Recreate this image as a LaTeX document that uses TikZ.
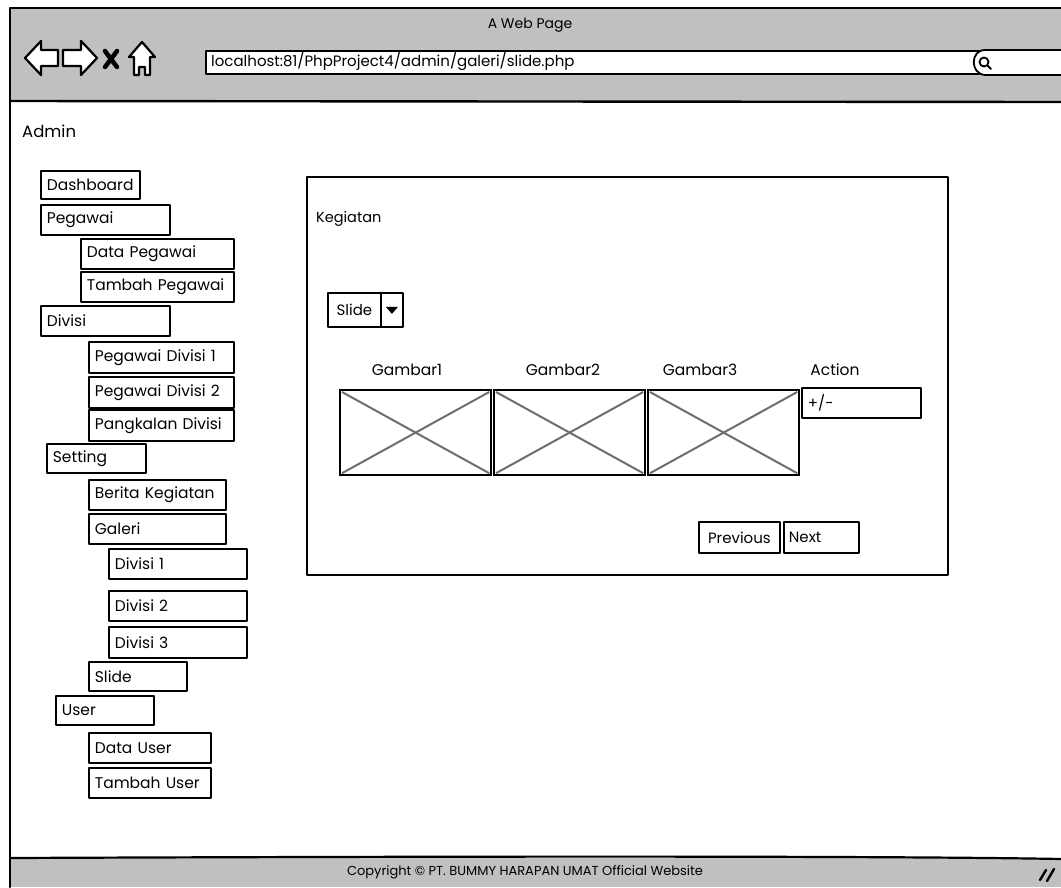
\documentclass[tikz,border=0pt]{standalone}
\usepackage{fontspec}
\setmainfont{Poppins}
\definecolor{chrome}{HTML}{C0C0C0}
\definecolor{xline}{HTML}{6E6E6E}
\tikzset{
  ink/.style={line width=1.8pt, line join=round, line cap=round},
  menubox/.style={ink, draw, fill=white, anchor=north west, inner xsep=6pt, inner ysep=0pt,
    text width=#1, align=left, font=\fontsize{15.5}{17}\selectfont},
  btn/.style={ink, draw, fill=white, anchor=north west, inner sep=0pt, font=\fontsize{15}{17}\selectfont},
  lbl/.style={inner sep=0pt, font=\fontsize{15.5}{18}\selectfont},
  icon/.style={ink, draw, fill=white, line width=2.2pt},
  imgbox/.style={draw, line width=2.2pt, anchor=north west, inner sep=0pt},
  cross/.style={draw=xline, line width=2pt}
}
\begin{document}
\begin{tikzpicture}[x=1pt, y=-1pt]
\useasboundingbox (0,0) rectangle (1061,887);
\fill[white] (0,0) rectangle (1061,887);

% browser window: title bar, content area, status bar
\fill[chrome] (10,8) rectangle (1061,101);
\fill[chrome] (10,858) rectangle (1061,887);
\draw[ink, line width=2pt] (1061,8) -- (10,8) -- (10,887);
\draw[ink, line width=2.4pt] (10,101) -- (1061,102);
\draw[ink, line width=2.2pt] (10,858) .. controls (500,856) and (900,856) .. (1061,859);

\node[lbl, font=\fontsize{14}{16}\selectfont] (title) at (530,25) {A Web Page};

% navigation icons
\draw[icon] (25,58) -- (41,41) -- (41,50) -- (58,50) -- (58,66) -- (41,66) -- (41,75) -- cycle;
\draw[icon] (97,58) -- (81,41) -- (81,50) -- (63,50) -- (63,66) -- (81,66) -- (81,75) -- cycle;
\draw[ink, line width=4.5pt] (105,51) -- (117,67) (117,51) -- (105,67);
\draw[icon] (142,42) -- (155,57) -- (150,57) -- (150,75) -- (145,75) -- (145,67) -- (139,67) -- (139,75) -- (134,75) -- (134,57) -- (129,57) -- cycle;

% address bar
\node[ink, draw, fill=white, anchor=north west, minimum width=773pt, minimum height=23pt, inner sep=0pt] (url) at (205,50) {};
\node[lbl, anchor=west, font=\fontsize{15}{17}\selectfont] (urltext) at (211,61) {localhost:81/PhpProject4/admin/galeri/slide.php};

% search field
\draw[ink, fill=white] (1070,50) -- (985,50) .. controls (970,50) and (970,74) .. (985,75) -- (1070,75);
\node[circle, ink, draw, minimum size=9pt, inner sep=0pt] (lens) at (984,62) {};
\draw[ink, line width=2pt] (lens.south east) -- ++(3,3);

% user label
\node[lbl, anchor=west, font=\fontsize{16.5}{19}\selectfont] (admin) at (22,131) {Admin};

% side menu
\node[menubox=87pt, minimum height=28pt] (m1) at (40,170) {Dashboard};
\node[menubox=117pt, minimum height=30pt] (m2) at (40,204) {Pegawai};
\node[menubox=141pt, minimum height=30pt] (m3) at (80,238) {Data Pegawai};
\node[menubox=141pt, minimum height=30pt] (m4) at (80,271) {Tambah Pegawai};
\node[menubox=117pt, minimum height=30pt] (m5) at (40,305) {Divisi};
\node[menubox=133pt, minimum height=31pt] (m6) at (88,341) {Pegawai Divisi 1};
\node[menubox=133pt, minimum height=31pt] (m7) at (88,376) {Pegawai Divisi 2};
\node[menubox=133pt, minimum height=31pt] (m8) at (88,409) {Pangkalan Divisi};
\node[menubox=87pt, minimum height=29pt] (m9) at (46,443) {Setting};
\node[menubox=125pt, minimum height=30pt] (m10) at (88,479) {Berita Kegiatan};
\node[menubox=125pt, minimum height=30pt] (m11) at (88,513) {Galeri};
\node[menubox=126pt, minimum height=30pt] (m12) at (108,548) {Divisi 1};
\node[menubox=126pt, minimum height=30pt] (m13) at (108,590) {Divisi 2};
\node[menubox=126pt, minimum height=31pt] (m14) at (108,626) {Divisi 3};
\node[menubox=86pt, minimum height=29pt] (m15) at (88,661) {Slide};
\node[menubox=86pt, minimum height=29pt] (m16) at (55,695) {User};
\node[menubox=110pt, minimum height=30pt] (m17) at (88,732) {Data User};
\node[menubox=110pt, minimum height=30pt] (m18) at (88,767) {Tambah User};

% main panel
\node[ink, draw, anchor=north west, minimum width=641pt, minimum height=398pt, inner sep=0pt] (panel) at (306,176) {};
\node[lbl, anchor=west, font=\fontsize{14.5}{17}\selectfont] (kegiatan) at (316,219) {Kegiatan};

% dropdown
\node[btn, minimum width=53pt, minimum height=34pt] (dd) at (327,292) {Slide};
\node[btn, minimum width=22pt, minimum height=34pt] (ddarrow) at (380,292) {};
\fill (ddarrow.center) ++(-6,-3) -- ++(12,0) -- ++(-6,7) -- cycle;

% table header
\node[lbl] (h1) at (407,370) {Gambar1};
\node[lbl] (h2) at (563,370) {Gambar2};
\node[lbl] (h3) at (700,370) {Gambar3};
\node[lbl] (h4) at (835,370) {Action};

% image placeholders
\node[imgbox, minimum width=151pt, minimum height=85pt] (img1) at (339,389) {};
\node[imgbox, minimum width=151pt, minimum height=85pt] (img2) at (493,389) {};
\node[imgbox, minimum width=151pt, minimum height=85pt] (img3) at (647,389) {};
\foreach \i in {img1,img2,img3}{
  \draw[cross] ([shift={(3,3)}]\i.north west) -- ([shift={(-3,-3)}]\i.south east);
  \draw[cross] ([shift={(-3,3)}]\i.north east) -- ([shift={(3,-3)}]\i.south west);
}
\node[btn, minimum width=119pt, minimum height=30pt, text width=107pt, align=left, inner xsep=6pt] (act) at (801,387) {+/-};

% pager
\node[btn, minimum width=81pt, minimum height=31pt] (prev) at (698,521) {Previous};
\node[btn, minimum width=75pt, minimum height=31pt, text width=65pt, align=left, inner xsep=5pt] (next) at (783,521) {Next};

% status bar
\node[lbl, font=\fontsize{13}{15}\selectfont] (copy) at (525,872) {Copyright © PT. BUMMY HARAPAN UMAT Official Website};
\draw[ink, line width=2.4pt] (1040,880) -- (1046,870) (1047,881) -- (1054,869);
\end{tikzpicture}
\end{document}
